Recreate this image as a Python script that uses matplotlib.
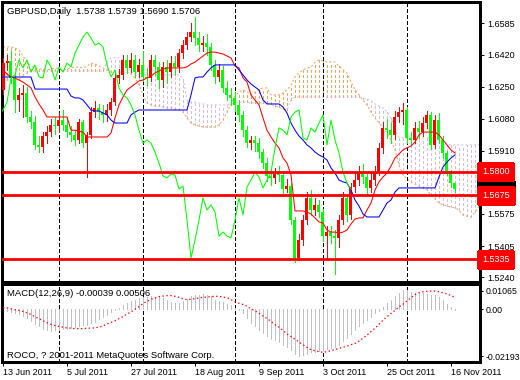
import numpy as np
import matplotlib
matplotlib.use('Agg')
import matplotlib.pyplot as plt

plt.rcParams['font.family'] = ['Liberation Sans', 'DejaVu Sans']
plt.rcParams['lines.scale_dashes'] = False
plt.rcParams['patch.antialiased'] = False

# ---------------- data (GBPUSD daily, 13 Jun 2011 - 17 Nov 2011) ----------------
opens = [1.6232, 1.6375, 1.6386, 1.6296, 1.6179, 1.6206, 1.6216, 1.6089, 1.6062, 1.5941,
         1.5930, 1.5988, 1.6009, 1.6046, 1.6041, 1.6073, 1.6046, 1.6009, 1.5994, 1.5967,
         1.6062, 1.5951, 1.5994, 1.6115, 1.6137, 1.6115, 1.6100, 1.6126, 1.6168, 1.6296,
         1.6312, 1.6391, 1.6349, 1.6391, 1.6327, 1.6365, 1.6301, 1.6296, 1.6391, 1.6354,
         1.6285, 1.6354, 1.6327, 1.6375, 1.6354, 1.6428, 1.6470, 1.6513, 1.6539, 1.6508,
         1.6470, 1.6481, 1.6460, 1.6365, 1.6301, 1.6338, 1.6243, 1.6206, 1.6190, 1.6153,
         1.6100, 1.6019, 1.5951, 1.5967, 1.5951, 1.5903, 1.5845, 1.5776, 1.5766, 1.5787,
         1.5782, 1.5707, 1.5723, 1.5543, 1.5342, 1.5437, 1.5543, 1.5660, 1.5596, 1.5623,
         1.5585, 1.5458, 1.5479, 1.5458, 1.5448, 1.5543, 1.5660, 1.5570, 1.5718, 1.5755,
         1.5797, 1.5771, 1.5713, 1.5755, 1.5797, 1.5925, 1.6031, 1.6019, 1.5994, 1.6089,
         1.6115, 1.6126, 1.5978, 1.5967, 1.6031, 1.6009, 1.6057, 1.6100, 1.5941, 1.6073,
         1.5967, 1.5898, 1.5797, 1.5738]
closes = [1.6375, 1.6386, 1.6296, 1.6179, 1.6206, 1.6216, 1.6089, 1.6062, 1.5941, 1.5930,
          1.5988, 1.6009, 1.6046, 1.6041, 1.6073, 1.6046, 1.6009, 1.5994, 1.5967, 1.6062,
          1.5951, 1.5994, 1.6115, 1.6137, 1.6115, 1.6100, 1.6126, 1.6168, 1.6296, 1.6312,
          1.6391, 1.6349, 1.6391, 1.6327, 1.6365, 1.6301, 1.6296, 1.6391, 1.6354, 1.6285,
          1.6354, 1.6327, 1.6375, 1.6354, 1.6428, 1.6470, 1.6513, 1.6539, 1.6508, 1.6470,
          1.6481, 1.6460, 1.6365, 1.6301, 1.6338, 1.6243, 1.6206, 1.6190, 1.6153, 1.6100,
          1.6019, 1.5951, 1.5967, 1.5951, 1.5903, 1.5845, 1.5776, 1.5766, 1.5787, 1.5782,
          1.5707, 1.5723, 1.5543, 1.5342, 1.5437, 1.5543, 1.5660, 1.5596, 1.5623, 1.5585,
          1.5458, 1.5479, 1.5458, 1.5448, 1.5543, 1.5660, 1.5570, 1.5718, 1.5755, 1.5797,
          1.5771, 1.5713, 1.5755, 1.5797, 1.5925, 1.6031, 1.6019, 1.5994, 1.6089, 1.6115,
          1.6126, 1.5978, 1.5967, 1.6031, 1.6009, 1.6057, 1.6100, 1.5941, 1.6073, 1.5967,
          1.5898, 1.5797, 1.5738, 1.5706]
highs = [1.6402, 1.6420, 1.6440, 1.6310, 1.6240, 1.6260, 1.6250, 1.6120, 1.6095, 1.5990,
         1.6010, 1.6040, 1.6080, 1.6090, 1.6110, 1.6125, 1.6090, 1.6040, 1.6020, 1.6080,
         1.6075, 1.6010, 1.6140, 1.6175, 1.6160, 1.6150, 1.6160, 1.6190, 1.6320, 1.6345,
         1.6420, 1.6420, 1.6430, 1.6415, 1.6395, 1.6440, 1.6350, 1.6420, 1.6420, 1.6380,
         1.6380, 1.6390, 1.6410, 1.6410, 1.6450, 1.6495, 1.6540, 1.6585, 1.6619, 1.6540,
         1.6520, 1.6530, 1.6480, 1.6390, 1.6370, 1.6360, 1.6280, 1.6240, 1.6220, 1.6180,
         1.6120, 1.6040, 1.5990, 1.5990, 1.5975, 1.5920, 1.5870, 1.5810, 1.5820, 1.5830,
         1.5800, 1.5760, 1.5740, 1.5560, 1.5470, 1.5570, 1.5690, 1.5700, 1.5660, 1.5650,
         1.5600, 1.5510, 1.5510, 1.5490, 1.5570, 1.5690, 1.5680, 1.5740, 1.5790, 1.5830,
         1.5840, 1.5800, 1.5790, 1.5830, 1.5950, 1.6060, 1.6080, 1.6060, 1.6120, 1.6140,
         1.6165, 1.6140, 1.6010, 1.6060, 1.6070, 1.6090, 1.6120, 1.6115, 1.6100, 1.6110,
         1.5990, 1.5910, 1.5810, 1.5739]
lows = [1.6210, 1.6340, 1.6270, 1.6115, 1.6120, 1.6090, 1.6060, 1.6030, 1.5920, 1.5903,
        1.5905, 1.5950, 1.5990, 1.6000, 1.6010, 1.6020, 1.5985, 1.5960, 1.5940, 1.5950,
        1.5930, 1.5772, 1.5980, 1.6090, 1.6080, 1.6060, 1.6070, 1.6100, 1.6150, 1.6270,
        1.6290, 1.6320, 1.6330, 1.6300, 1.6300, 1.6280, 1.6260, 1.6280, 1.6310, 1.6240,
        1.6250, 1.6270, 1.6300, 1.6310, 1.6330, 1.6400, 1.6450, 1.6490, 1.6470, 1.6440,
        1.6440, 1.6420, 1.6340, 1.6270, 1.6280, 1.6220, 1.6180, 1.6150, 1.6120, 1.6070,
        1.5990, 1.5930, 1.5920, 1.5910, 1.5870, 1.5820, 1.5750, 1.5730, 1.5740, 1.5750,
        1.5680, 1.5690, 1.5520, 1.5320, 1.5330, 1.5410, 1.5520, 1.5570, 1.5570, 1.5560,
        1.5430, 1.5342, 1.5420, 1.5257, 1.5400, 1.5520, 1.5540, 1.5550, 1.5690, 1.5730,
        1.5740, 1.5680, 1.5690, 1.5730, 1.5780, 1.5900, 1.5980, 1.5950, 1.5970, 1.6060,
        1.6050, 1.5950, 1.5940, 1.5950, 1.5980, 1.5990, 1.6030, 1.5920, 1.5925, 1.5950,
        1.5870, 1.5780, 1.5720, 1.5690]

# Ichimoku lines
tenkan = [1.6338, 1.6317, 1.6301, 1.6296, 1.6285, 1.6274, 1.6259, 1.6243, 1.6195, 1.6158,
          1.6126, 1.6089, 1.6089, 1.6089, 1.6089, 1.6089, 1.6089, 1.6019, 1.6019, 1.6014,
          1.6009, 1.5983, 1.5983, 1.5983, 1.5983, 1.5983, 1.5983, 1.6004, 1.6084, 1.6153,
          1.6195, 1.6232, 1.6248, 1.6264, 1.6280, 1.6285, 1.6296, 1.6306, 1.6322, 1.6333,
          1.6343, 1.6349, 1.6349, 1.6349, 1.6349, 1.6349, 1.6354, 1.6370, 1.6380, 1.6396,
          1.6412, 1.6428, 1.6433, 1.6433, 1.6428, 1.6423, 1.6412, 1.6402, 1.6359, 1.6349,
          1.6296, 1.6274, 1.6206, 1.6179, 1.6153, 1.6084, 1.6019, 1.5983, 1.5951, 1.5925,
          1.5872, 1.5845, 1.5782, 1.5591, 1.5591, 1.5591, 1.5585, 1.5575, 1.5554, 1.5533,
          1.5527, 1.5490, 1.5479, 1.5479, 1.5474, 1.5479, 1.5490, 1.5522, 1.5548, 1.5554,
          1.5554, 1.5596, 1.5633, 1.5702, 1.5745, 1.5771, 1.5792, 1.5829, 1.5872, 1.5893,
          1.5914, 1.5925, 1.5935, 1.5956, 1.5994, 1.6009, 1.6009, 1.6009, 1.6009, 1.5994,
          1.5967, 1.5941, 1.5914, 1.5898]
kijun = ([1.6301] * 8 + [1.6237] * 9 + [1.6200, 1.6190, 1.6190,
         1.6179, 1.6153, 1.6126, 1.6121, 1.6121, 1.6110, 1.6100, 1.6073, 1.6057, 1.6057,
         1.6057, 1.6057, 1.6100, 1.6115] + [1.6126] * 13 + [1.6206, 1.6296, 1.6301,
         1.6301, 1.6327, 1.6349] + [1.6365] * 6 + [1.6338,
         1.6312, 1.6285, 1.6264, 1.6248, 1.6232, 1.6179] + [1.6158] * 4 +
         [1.6142, 1.6110, 1.6057, 1.6019, 1.5988, 1.5967, 1.5941, 1.5925, 1.5903, 1.5888,
          1.5877, 1.5861, 1.5819, 1.5792, 1.5755, 1.5745, 1.5739, 1.5702, 1.5649, 1.5617,
          1.5575] + [1.5559] * 4 + [1.5596, 1.5633, 1.5649, 1.5691] + [1.5713] * 10 +
         [1.5771, 1.5824, 1.5850, 1.5872, 1.5888])
span_a = [1.6460, 1.6460, 1.6460, 1.6455, 1.6444, 1.6412, 1.6380, 1.6359, 1.6349, 1.6343,
          1.6343, 1.6338, 1.6343, 1.6349, 1.6343, 1.6338, 1.6343, 1.6349, 1.6354, 1.6354,
          1.6349, 1.6359, 1.6375, 1.6370, 1.6359, 1.6349, 1.6338, 1.6327, 1.6327, 1.6327,
          1.6327, 1.6327, 1.6317, 1.6296, 1.6259, 1.6206, 1.6163, 1.6153, 1.6147, 1.6147,
          1.6142, 1.6137, 1.6137, 1.6131, 1.6126, 1.6115, 1.6084, 1.6057, 1.6046, 1.6041,
          1.6036, 1.6036, 1.6036, 1.6036, 1.6046, 1.6073, 1.6115, 1.6158, 1.6200, 1.6221,
          1.6232, 1.6221, 1.6206, 1.6221, 1.6232, 1.6243, 1.6243, 1.6206, 1.6206, 1.6206,
          1.6216, 1.6232, 1.6259, 1.6301, 1.6322, 1.6338, 1.6349, 1.6354, 1.6380, 1.6391,
          1.6386, 1.6380, 1.6380, 1.6380, 1.6359, 1.6338, 1.6322, 1.6274, 1.6232, 1.6206,
          1.6179, 1.6153, 1.6115, 1.6084, 1.6057, 1.6031, 1.6004, 1.5967, 1.5914, 1.5835,
          1.5782, 1.5760, 1.5745, 1.5734, 1.5723, 1.5713, 1.5702, 1.5676, 1.5654, 1.5633,
          1.5623, 1.5617, 1.5612, 1.5607, 1.5596, 1.5570, 1.5564, 1.5559, 1.5585, 1.5617]
span_b = ([1.6285] * 5 + [1.6306, 1.6322] + [1.6333] * 19 +
          [1.6380, 1.6402, 1.6402, 1.6402, 1.6391, 1.6365, 1.6327, 1.6327, 1.6322, 1.6317] +
          [1.6312] * 9 + [1.6296, 1.6179, 1.6168, 1.6168, 1.6163, 1.6158] + [1.6153] * 6 +
          [1.6158, 1.6163, 1.6168, 1.6168, 1.6168] + [1.6163] * 5 +
          [1.6158, 1.6147, 1.6142, 1.6131, 1.6126, 1.6179] + [1.6195] * 17 +
          [1.6190, 1.6184, 1.6174, 1.6158, 1.6147, 1.6137, 1.6115, 1.6084, 1.6019, 1.5983] +
          [1.5978] * 10 + [1.5956] + [1.5941] * 9)

# MACD(12,26,9) main and signal
macd = [-0.0003, -0.0005, -0.0010, -0.0014, -0.0019, -0.0027, -0.0037, -0.0047, -0.0060, -0.0071,
        -0.0080, -0.0085, -0.0088, -0.0087, -0.0085, -0.0082, -0.0080, -0.0077, -0.0074, -0.0069,
        -0.0066, -0.0065, -0.0058, -0.0051, -0.0041, -0.0030, -0.0021, -0.0012, -0.0003, 0.0008,
        0.0018, 0.0027, 0.0036, 0.0041, 0.0047, 0.0052, 0.0054, 0.0055, 0.0054, 0.0052,
        0.0049, 0.0041, 0.0032, 0.0027, 0.0029, 0.0036, 0.0045, 0.0055, 0.0059, 0.0062,
        0.0063, 0.0062, 0.0055, 0.0041, 0.0036, 0.0032, 0.0025, 0.0018, 0.0008, -0.0003,
        -0.0014, -0.0037, -0.0055, -0.0071, -0.0085, -0.0099, -0.0110, -0.0122, -0.0129, -0.0137,
        -0.0147, -0.0157, -0.0170, -0.0184, -0.0195, -0.0192, -0.0184, -0.0179, -0.0176, -0.0173,
        -0.0170, -0.0165, -0.0161, -0.0157, -0.0147, -0.0133, -0.0120, -0.0102, -0.0085, -0.0069,
        -0.0055, -0.0044, -0.0030, -0.0016, -0.0005, 0.0011, 0.0027, 0.0041, 0.0055, 0.0069,
        0.0080, 0.0082, 0.0073, 0.0069, 0.0069, 0.0069, 0.0066, 0.0059, 0.0059, 0.0052,
        0.0038, 0.0025, 0.0011, -0.00039]
signal = [0.0008, 0.0007, 0.0003, -0.0001, -0.0004, -0.0008, -0.0014, -0.0021, -0.0030, -0.0038,
          -0.0047, -0.0055, -0.0062, -0.0067, -0.0071, -0.0074, -0.0077, -0.0078, -0.0080, -0.0080,
          -0.0080, -0.0078, -0.0078, -0.0076, -0.0074, -0.0069, -0.0060, -0.0054, -0.0047, -0.0038,
          -0.0030, -0.0019, -0.0010, 0.0001, 0.0012, 0.0025, 0.0034, 0.0043, 0.0048, 0.0054,
          0.0056, 0.0058, 0.0058, 0.0055, 0.0051, 0.0045, 0.0041, 0.0043, 0.0045, 0.0048,
          0.0051, 0.0052, 0.0054, 0.0055, 0.0055, 0.0052, 0.0049, 0.0041, 0.0032, 0.0026,
          0.0021, 0.0014, 0.0003, -0.0005, -0.0016, -0.0027, -0.0038, -0.0049, -0.0063, -0.0074,
          -0.0088, -0.0102, -0.0113, -0.0124, -0.0136, -0.0147, -0.0158, -0.0168, -0.0172, -0.0176,
          -0.0179, -0.0176, -0.0172, -0.0168, -0.0162, -0.0158, -0.0153, -0.0147, -0.0142, -0.0132,
          -0.0120, -0.0107, -0.0092, -0.0078, -0.0062, -0.0044, -0.0030, -0.0016, -0.0004, 0.0011,
          0.0022, 0.0036, 0.0049, 0.0062, 0.0070, 0.0074, 0.0076, 0.0077, 0.0077, 0.0074,
          0.0070, 0.0065, 0.0058, 0.00506]

levels = [1.5800, 1.5675, 1.5335]
last_price = 1.5706
price_ticks = [1.6585, 1.6420, 1.6250, 1.6080, 1.5910, 1.5745, 1.5575, 1.5405, 1.5240]
date_pos = [0, 16, 32, 48, 64, 80, 96, 112]
date_labels = ['13 Jun 2011', '5 Jul 2011', '27 Jul 2011', '18 Aug 2011',
               '9 Sep 2011', '3 Oct 2011', '25 Oct 2011', '16 Nov 2011']
separators = [14, 35, 58, 80, 101]   # first bar of each month
macd_max, macd_min = 0.01065, -0.02193

# ---------------- figure ----------------
W, H = 520, 380
fig = plt.figure(figsize=(W / 100, H / 100), dpi=100, facecolor='white')


def rect(x0, y0, x1, y1):
    return [x0 / W, 1 - y1 / H, (x1 - x0) / W, (y1 - y0) / H]


ax = fig.add_axes(rect(2, 2, 480, 282))
axm = fig.add_axes(rect(2, 284, 480, 362))

LW = 0.75  # ~1 px lines
idx = np.arange(len(closes))
o, c = np.array(opens), np.array(closes)
cols = np.where(c >= o, '#FF0000', '#00FF00')
cloud_idx = np.arange(len(span_a))
a, b = np.array(span_a), np.array(span_b)

# cloud hatching
cloud_cols = np.where(a >= b, '#F4A460', '#D8BFD8')
ax.vlines(cloud_idx, np.minimum(a, b), np.maximum(a, b), colors=cloud_cols,
          linestyles=(0, (1.5, 1.5)), lw=LW, zorder=1, antialiaseds=False)
ax.plot(cloud_idx, a, color='#F4A460', lw=LW, ls=(0, (1.5, 1.5)), zorder=1)
ax.plot(cloud_idx, b, color='#D8BFD8', lw=LW, ls=(0, (1.5, 1.5)), zorder=1)

# candles
ax.vlines(idx, lows, highs, colors=cols, lw=0.6, zorder=3, antialiaseds=False)
ax.bar(idx, np.maximum(np.abs(c - o), 0.0005), bottom=np.minimum(o, c), width=0.75,
       color=cols, lw=0, zorder=3)

# tenkan / kijun / chikou
ax.plot(idx, tenkan, color='#FF0000', lw=LW, zorder=4)
ax.plot(idx, kijun, color='#0000FF', lw=LW, zorder=4)
ax.plot(idx - 26, closes, color='#00FF00', lw=LW, zorder=4)

for s in separators:
    for axx in (ax, axm):
        axx.axvline(s, color='black', lw=0.6, ls=(0, (2.4, 2.0)), zorder=2,
                    antialiased=False)

ytr = ax.get_yaxis_transform()
ax.text(1.004, last_price, f'{last_price:.4f}', transform=ytr, color='white', fontsize=6.5,
        va='center', ha='left', zorder=6, clip_on=False,
        bbox=dict(boxstyle='square,pad=0.45', fc='black', ec='black'))
for lv in levels:
    ax.axhline(lv, color='#FF0000', lw=2.0, zorder=5)
    ax.text(1.004, lv, f'{lv:.4f}', transform=ytr, color='white', fontsize=6.5,
            va='center', ha='left', zorder=7, clip_on=False,
            bbox=dict(boxstyle='square,pad=0.45', fc='#FF0000', ec='#FF0000'))

ax.set_xlim(-0.25, 119.25)
ax.set_ylim(1.52144, 1.66984)
ax.yaxis.tick_right()
ax.set_yticks(price_ticks)
ax.set_yticklabels([f'{t:.4f}' for t in price_ticks])
ax.tick_params(axis='y', length=3, width=LW, pad=2, labelsize=6.5, direction='out')
ax.set_xticks([])

# MACD panel
axm.vlines(idx, 0, macd, colors='#C0C0C0', lw=0.6, zorder=2, antialiaseds=False)
axm.plot(idx, signal, color='#FF0000', lw=0.9, ls=(0, (1.0, 1.8)), zorder=3)
axm.set_xlim(-0.25, 119.25)
axm.set_ylim(macd_min, macd_max)
px = (macd_max - macd_min) / 78
axm.yaxis.tick_right()
axm.set_yticks([macd_max - 7 * px, 0, macd_min + 6 * px])
axm.set_yticklabels(['0.01065', '0.00', '-0.02193'])
axm.tick_params(axis='y', length=2.5, width=LW, pad=1.2, labelsize=6.3, direction='out')
axm.set_xticks(date_pos)
axm.set_xticklabels(date_labels, ha='left')
axm.tick_params(axis='x', length=3, width=LW, pad=1.5, labelsize=6.5, direction='out')

for axx in (ax, axm):
    for sp in axx.spines.values():
        sp.set_color('black')
        sp.set_linewidth(LW)

fig.text(7 / W, 1 - 11 / H, 'GBPUSD,Daily  1.5738 1.5739 1.5690 1.5706', fontsize=6.8,
         va='center', ha='left', color='black')
fig.text(7 / W, 1 - 294 / H, 'MACD(12,26,9) -0.00039 0.00506', fontsize=6.8,
         va='center', ha='left', color='black')
fig.text(7 / W, 1 - 355 / H, 'ROCO, ? 2001-2011 MetaQuotes Software Corp.', fontsize=6.8,
         va='center', ha='left', color='black')

fig.savefig('out.png', dpi=100, facecolor='white')
